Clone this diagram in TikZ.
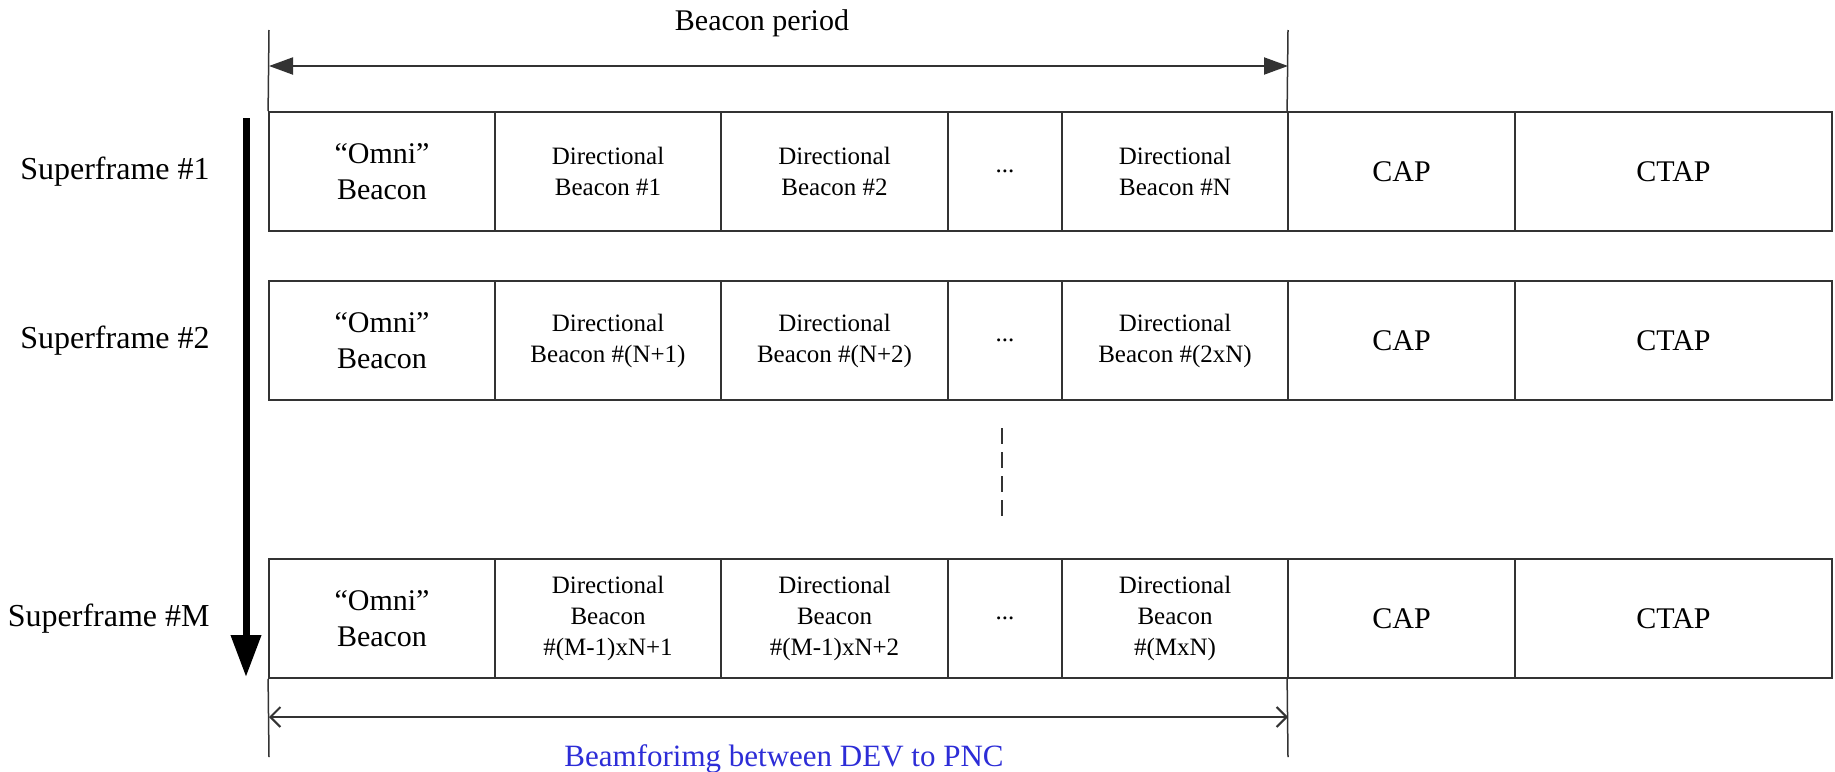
\documentclass[tikz,border=0pt]{standalone}
\usepackage{fontspec}
\setmainfont{Liberation Serif}
\usetikzlibrary{arrows.meta}
\definecolor{beamblue}{RGB}{45,45,215}
\tikzset{
    slot/.style={draw=black!80, line width=0.9pt, minimum height=59.5pt, inner sep=0pt, align=center},
    omnislot/.style={slot, font=\fontsize{15}{18}\selectfont},
    dirslot/.style={slot, font=\fontsize{12.5}{15.5}\selectfont},
    periodslot/.style={slot, font=\fontsize{15}{18}\selectfont},
    framename/.style={anchor=east, inner sep=0pt, font=\fontsize{16}{19}\selectfont},
    marker/.style={draw=black!80, line width=0.75pt}
}

\begin{document}
\begin{tikzpicture}[x=0.5pt, y=-0.5pt]
    \useasboundingbox (0,0) rectangle (1835,771);
% Superframe #1
    \node[omnislot, minimum width=113pt] (omni1) at (382,171.5) {“Omni”\\Beacon};
    \node[dirslot, minimum width=113pt] (dir1a) at (608,171.5) {Directional\\Beacon \#1};
    \node[dirslot, minimum width=113.5pt] (dir1b) at (834.5,171.5) {Directional\\Beacon \#2};
    \node[dirslot, minimum width=57pt] (dots1) at (1005,171.5) {...};
    \node[dirslot, minimum width=113pt] (dir1n) at (1175,171.5) {Directional\\Beacon \#N};
    \node[periodslot, minimum width=113.5pt] (cap1) at (1401.5,171.5) {CAP};
    \node[periodslot, minimum width=158.5pt] (ctap1) at (1673.5,171.5) {CTAP};
% Superframe #2
    \node[omnislot, minimum width=113pt] (omni2) at (382,340.5) {“Omni”\\Beacon};
    \node[dirslot, minimum width=113pt] (dir2a) at (608,340.5) {Directional\\Beacon \#(N+1)};
    \node[dirslot, minimum width=113.5pt] (dir2b) at (834.5,340.5) {Directional\\Beacon \#(N+2)};
    \node[dirslot, minimum width=57pt] (dots2) at (1005,340.5) {...};
    \node[dirslot, minimum width=113pt] (dir2n) at (1175,340.5) {Directional\\Beacon \#(2xN)};
    \node[periodslot, minimum width=113.5pt] (cap2) at (1401.5,340.5) {CAP};
    \node[periodslot, minimum width=158.5pt] (ctap2) at (1673.5,340.5) {CTAP};
% Superframe #M
    \node[omnislot, minimum width=113pt] (omni3) at (382,618.5) {“Omni”\\Beacon};
    \node[dirslot, minimum width=113pt] (dir3a) at (608,618.5) {Directional\\Beacon\\\#(M-1)xN+1};
    \node[dirslot, minimum width=113.5pt] (dir3b) at (834.5,618.5) {Directional\\Beacon\\\#(M-1)xN+2};
    \node[dirslot, minimum width=57pt] (dots3) at (1005,618.5) {...};
    \node[dirslot, minimum width=113pt] (dir3n) at (1175,618.5) {Directional\\Beacon\\\#(MxN)};
    \node[periodslot, minimum width=113.5pt] (cap3) at (1401.5,618.5) {CAP};
    \node[periodslot, minimum width=158.5pt] (ctap3) at (1673.5,618.5) {CTAP};
% Row names
    \node[framename] (name1) at (210,171.5) {Superframe \#1};
    \node[framename] (name2) at (210,340.5) {Superframe \#2};
    \node[framename] (name3) at (210,618.5) {Superframe \#M};
% Time arrow
    \coordinate (down1) at (246,118);
    \coordinate (down2) at (246,677);
    \draw[line width=3.5pt, -{Triangle[length=21pt, width=14.5pt]}] (down1) -- (down2);
% Skipped superframes
    \coordinate (skip1) at (1002,428);
    \coordinate (skip2) at (1002,517);
    \draw[marker, line width=1pt, dash pattern=on 8pt off 4pt] (skip1) -- (skip2);
% Beacon period
    \coordinate (topL) at (269,30);
    \coordinate (topR) at (1288,30);
    \draw[marker] (topL) -- (omni1.north west);
    \draw[marker] (topR) -- (cap1.north west);
    \coordinate (periodL) at (269,66);
    \coordinate (periodR) at (1288,66);
    \draw[black!80, line width=1pt, {Triangle[length=12pt, width=8.5pt]}-{Triangle[length=12pt, width=8.5pt]}] (periodL) -- (periodR);
    \node[font=\fontsize{15}{18}\selectfont] (period) at (762,23) {Beacon period};
% Beamforming span
    \coordinate (botL) at (269,757);
    \coordinate (botR) at (1288,757);
    \draw[marker] (omni3.south west) -- (botL);
    \draw[marker] (cap3.south west) -- (botR);
    \coordinate (beamL) at (269,717);
    \coordinate (beamR) at (1288,717);
    \draw[black!80, line width=1pt, {Straight Barb[length=5pt, width=10pt]}-{Straight Barb[length=5pt, width=10pt]}] (beamL) -- (beamR);
    \node[anchor=base, inner sep=0pt, text=beamblue, font=\fontsize{15.5}{18}\selectfont] (beam) at (784,766) {Beamforimg between DEV to PNC};
\end{tikzpicture}
\end{document}
